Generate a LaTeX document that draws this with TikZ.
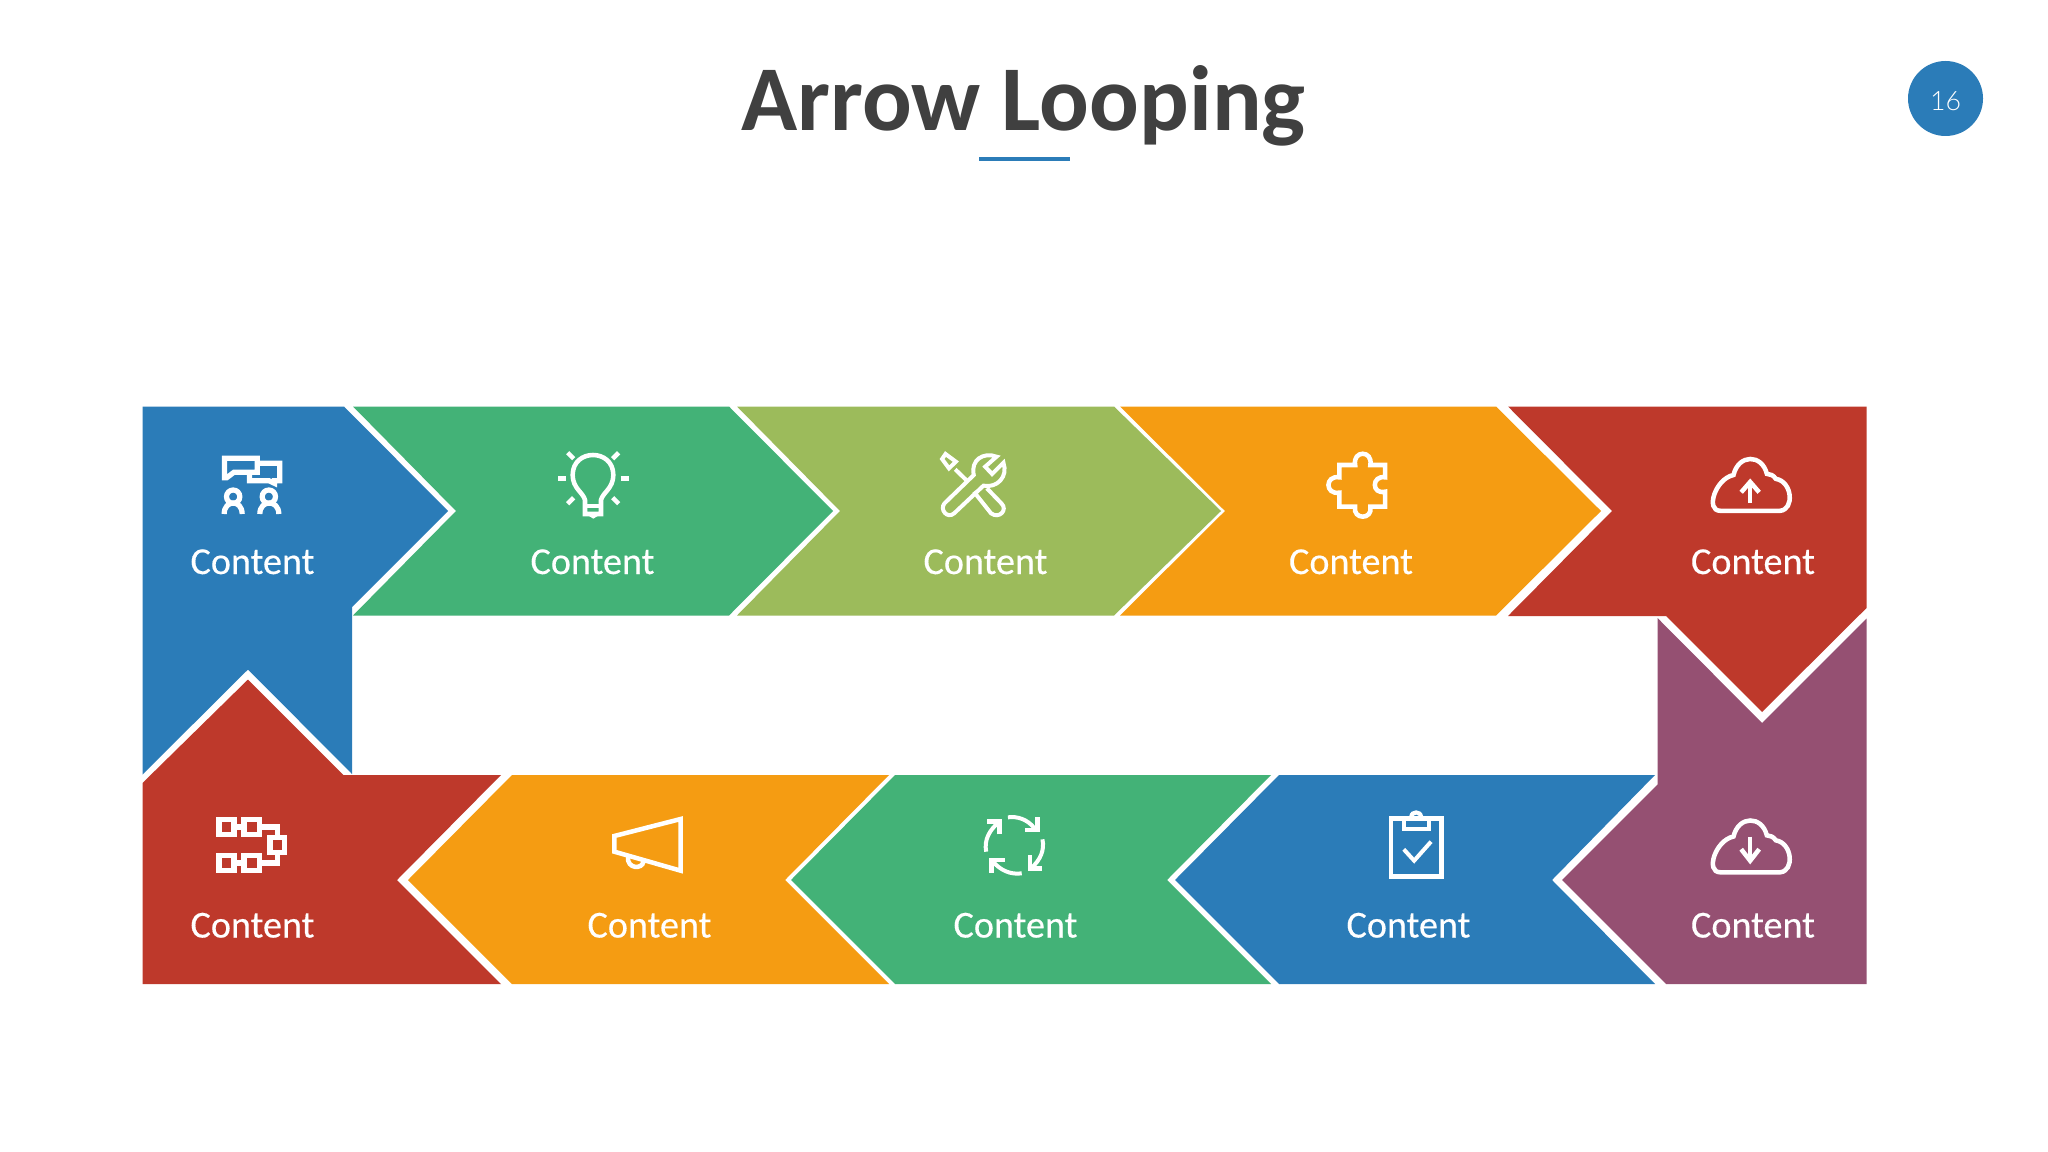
\documentclass[tikz,border=0pt]{standalone}
\usepackage{fontspec}
\setmainfont{Carlito}
\newfontfamily\numfont{Lato Light}
\newfontfamily\lblfont[FakeBold=0.35]{Carlito}
\definecolor{cblue}{HTML}{2B7CB8}
\definecolor{cgreen}{HTML}{43B277}
\definecolor{colive}{HTML}{9CBB5B}
\definecolor{corange}{HTML}{F59C12}
\definecolor{cred}{HTML}{BE392B}
\definecolor{cpurple}{HTML}{955072}
\definecolor{ctitle}{HTML}{404040}
\tikzset{
 lbl/.style={text=white,font=\lblfont\fontsize{28.6}{28.6}\selectfont,inner sep=0pt,anchor=base},
 icon/.style={draw=white,line width=3.4pt,line join=miter,fill=none},
 heavyicon/.style={draw=white,line width=3.9pt,line join=miter,fill=none},
 thinicon/.style={draw=white,line width=3pt,line join=miter,fill=none},
 solidicon/.style={fill=white,draw=none}
}
\newcommand{\cloudshape}{(665,288) -- (845,288) .. controls (888,285) and (882,212) .. (832,205) .. controls (825,196) and (815,192) .. (805,192) .. controls (790,140) and (720,140) .. (705,195) .. controls (650,205) and (620,288) .. (665,288) -- cycle}
\begin{document}
\begin{tikzpicture}[x=0.75pt,y=-0.75pt]
\useasboundingbox (0,0) rectangle (2048,1152);
\fill[white] (0,0) rectangle (2048,1152);
% title
\node[text=ctitle,font=\bfseries\fontsize{69.5}{69.5}\selectfont,inner sep=0pt,anchor=base] (title) at (1023.5,131) {Arrow Looping};
\fill[cblue] (979,157) rectangle (1069.5,161.5);
\fill[cblue] (1945.5,98.5) circle (37.5);
\node[text=white,font=\numfont\fontsize{20}{20}\selectfont,inner sep=0pt] (num) at (1945.5,101) {16};
% top row
\fill[cblue] (142.5,406.5) -- (344,406.5) -- (448,511) -- (352,607) -- (352,774) -- (248,669.5) -- (142.5,774.5) -- cycle;
\fill[cgreen] (353,406.5) -- (729,406.5) -- (833,511) -- (729,615.5) -- (353,615.5) -- (456,511) -- cycle;
\fill[colive] (737,406.5) -- (1114,406.5) -- (1221,511) -- (1114,615.5) -- (737,615.5) -- (840,511) -- cycle;
\fill[corange] (1120,406.5) -- (1496,406.5) -- (1601,511) -- (1496,615.5) -- (1120,615.5) -- (1225,511) -- cycle;
\fill[cred] (1508,406.5) -- (1866.5,406.5) -- (1866.5,608) -- (1762,712) -- (1666,616) -- (1508,616) -- (1612,511) -- cycle;
% bottom row
\fill[cpurple] (1657.5,618) -- (1762,723) -- (1866.5,618.5) -- (1866.5,984) -- (1666,984) -- (1562,880) -- (1657.5,784.5) -- cycle;
\fill[cblue] (1279,775) -- (1655,775) -- (1552,880) -- (1655,984) -- (1279,984) -- (1175,880) -- cycle;
\fill[cgreen] (895,775) -- (1271,775) -- (1167,880) -- (1271,984) -- (895,984) -- (791,880) -- cycle;
\fill[corange] (512,775) -- (889,775) -- (785,880) -- (889,984) -- (512,984) -- (408,880) -- cycle;
\fill[cred] (248,679.5) -- (343.5,775) -- (501,775) -- (397,880) -- (501,984) -- (142.5,984) -- (142.5,783) -- cycle;
% labels
\foreach \n/\x/\y in {a/252.5/574,b/592.5/574,c/985.5/574,d/1351/574,e/1753/574,f/1753/937.5,g/1408.5/937.5,h/1015.5/937.5,i/649.5/937.5,j/252.5/937.5}
  \node[lbl] (lbl\n) at (\x,\y) {Content};
% people with speech bubbles
\begin{scope}[shift={(200.5,440)},xscale=1/3,yscale=1/3]
 \draw[heavyicon] (72,55) -- (170,55) -- (170,97) -- (100,97) -- (79,113) -- (72,113) -- (72,55) -- cycle;
 \draw[heavyicon] (170,70) -- (238,70) -- (238,122) -- (222,122) -- (222,130) -- (205,122) -- (147,122) -- (147,97);
 \draw[heavyicon] (98,170) circle (20);
 \draw[heavyicon] (205,170) circle (20);
 \draw[heavyicon] (71,222) .. controls (71,178) and (125,178) .. (125,222);
 \draw[heavyicon] (178,222) .. controls (178,178) and (235,178) .. (235,222);
\end{scope}
% light bulb
\begin{scope}[shift={(130,400)},xscale=1/3,yscale=1/3]
 \draw[icon] (1365,318) -- (1365,300) .. controls (1360,278) and (1328,265) .. (1328,225) .. controls (1328,145) and (1450,145) .. (1450,225) .. controls (1450,265) and (1418,278) .. (1413,300) -- (1413,342) -- (1365,342) -- cycle;
 \draw[icon] (1365,318) -- (1413,318);
 \fill[solidicon] (1372,345) -- (1408,345) -- (1390,356) -- cycle;
 \draw[icon] (1285,235) -- (1308,235);
 \draw[icon] (1472,235) -- (1497,235);
 \draw[icon] (1313,158) -- (1331,176);
 \draw[icon] (1466,158) -- (1448,176);
 \draw[icon] (1313,311) -- (1331,293);
 \draw[icon] (1466,311) -- (1448,293);
\end{scope}
% tools and puzzle
\begin{scope}[shift={(880,420)},xscale=1/2.9,yscale=1/3]
 \draw[thinicon] (338,110) .. controls (300,95) and (262,120) .. (272,165) -- (187,250) .. controls (172,268) and (195,298) .. (215,280) -- (300,197) .. controls (340,205) and (372,170) .. (358,128) -- (325,162) -- (305,140) -- cycle;
 \draw[thinicon] (272,215) -- (322,280) .. controls (345,298) and (372,270) .. (352,250) -- (310,205);
 \draw[thinicon] (218,148) -- (252,182);
 \draw[thinicon] (190,102) -- (180,117) -- (200,145) -- (220,125) -- cycle;
 \draw[icon] (1332,135) -- (1378,135) .. controls (1370,90) and (1430,90) .. (1422,135) -- (1465,135) -- (1465,172) .. controls (1425,165) and (1425,225) .. (1465,215) -- (1465,260) -- (1422,260) .. controls (1430,300) and (1370,300) .. (1378,260) -- (1332,260) -- (1332,218) .. controls (1290,225) and (1290,165) .. (1332,172) -- cycle;
\end{scope}
% clouds
\begin{scope}[shift={(1498.5,400)},xscale=1/3,yscale=1/2.6]
 \draw[icon] \cloudshape;
 \draw[icon] (755,268) -- (755,215);
 \draw[icon] (728,240) -- (755,213) -- (782,240);
\end{scope}
\begin{scope}[shift={(1498.5,761.5)},xscale=1/3,yscale=1/2.6]
 \draw[icon] \cloudshape;
 \draw[icon] (755,195) -- (755,255);
 \draw[icon] (728,228) -- (755,258) -- (782,228);
\end{scope}
% recycle arrows and clipboard
\begin{scope}[shift={(950,790)},xscale=1/2.9,yscale=1/3]
 \draw[thinicon] (168,82) .. controls (195,78) and (225,88) .. (245,115);
 \draw[icon] (253,82) -- (253,120) -- (218,120);
 \draw[thinicon] (268,148) .. controls (275,180) and (262,210) .. (235,235);
 \draw[icon] (232,195) -- (232,235) -- (268,235);
 \draw[thinicon] (208,250) .. controls (175,255) and (145,240) .. (125,215);
 \draw[icon] (120,248) -- (120,210) -- (160,210);
 \draw[thinicon] (105,185) .. controls (98,150) and (115,120) .. (140,98);
 \draw[icon] (143,133) -- (143,95) -- (106,95);
 \draw[icon] (1279,85) rectangle (1426,260);
 \draw[icon] (1316,85) -- (1316,117) -- (1389,117) -- (1389,85);
 \fill[solidicon] (1332,78) .. controls (1335,55) and (1368,55) .. (1372,78) -- (1362,85) .. controls (1360,70) and (1344,70) .. (1342,85) -- cycle;
 \draw[thinicon] (1316,178) -- (1346,212) -- (1395,155);
\end{scope}
% megaphone
\begin{scope}[shift={(600,800)},xscale=1/3,yscale=1/3]
 \draw[icon] (43,108) -- (242,57) -- (242,212) -- (43,155) -- cycle;
 \draw[icon] (84,170) .. controls (80,208) and (128,208) .. (130,185);
\end{scope}
% network
\begin{scope}[shift={(130,660)},xscale=1/2.8,yscale=1/3]
 \draw[heavyicon] (249,479) rectangle (291,523);
 \draw[heavyicon] (319,479) rectangle (363,523);
 \draw[heavyicon] (249,587) rectangle (291,631);
 \draw[heavyicon] (319,587) rectangle (363,631);
 \draw[heavyicon] (392,532) rectangle (433,578);
 \draw[heavyicon] (291,501) -- (319,501);
 \draw[heavyicon] (291,609) -- (319,609);
 \draw[heavyicon] (363,501) -- (412,501) -- (412,532);
 \draw[heavyicon] (363,609) -- (412,609) -- (412,578);
\end{scope}
\end{tikzpicture}
\end{document}
